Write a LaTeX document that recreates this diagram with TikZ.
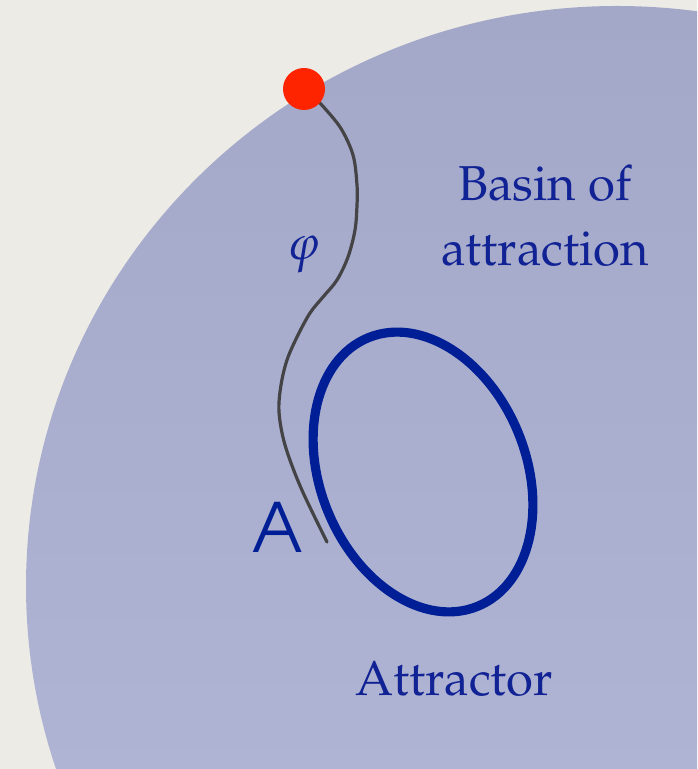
\documentclass[tikz,border=0pt]{standalone}
\usepackage[T1]{fontenc}
\usepackage{mathpazo}
\definecolor{paper}{RGB}{237,235,230}
\definecolor{basintop}{RGB}{164,168,200}
\definecolor{basinbot}{RGB}{182,186,218}
\definecolor{textblue}{RGB}{16,34,148}
\definecolor{attrblue}{RGB}{0,30,150}
\definecolor{dotred}{RGB}{255,36,0}
\definecolor{curvegray}{RGB}{68,68,70}
\tikzset{
  lbl/.style={text=textblue, font=\fontsize{24.5}{29}\selectfont, inner sep=0pt, anchor=base},
  hand/.style={text=attrblue, font=\fontfamily{pag}\fontseries{m}\fontsize{34}{38}\selectfont, inner sep=0pt, anchor=base},
  reddot/.style={circle, fill=dotred, minimum size=21pt, inner sep=0pt},
}
\begin{document}
\begin{tikzpicture}[x=0.5pt,y=-0.5pt]
\useasboundingbox (0,0) rectangle (697,769);
\begin{scope}
\clip (0,0) rectangle (697,769);
\fill[paper] (0,0) rectangle (697,769);
\shade[top color=basintop, bottom color=basinbot] (617,586) ellipse [x radius=591, y radius=580];
\end{scope}
% trajectory
\coordinate (start) at (319,102);
\coordinate (endA) at (327,542);
\draw[curvegray, line width=1.6pt, line cap=round] plot[smooth, tension=0.55] coordinates {(start) (340,127) (353,155) (357,185) (357,205) (355,230) (348,257) (337,280) (323,297) (310,313) (297,337) (287,360) (281,385) (279,412) (285,445) (301,488) (endA)};
\node[reddot] (dot) at (304,89) {};
% attractor
\coordinate (attc) at (423,472);
\draw[attrblue, line width=4.6pt, rotate around={112:(attc)}] (attc) ellipse [x radius=145, y radius=103];
% labels
\node[lbl] (basin1) at (545,201) {Basin of};
\node[lbl] (basin2) at (545,266) {attraction};
\node[lbl] (attr) at (454,695) {Attractor};
\node[lbl, anchor=center] (phi) at (304,254) {$\varphi$};
\node[hand] (alabel) at (278,552) {A};
\end{tikzpicture}
\end{document}
